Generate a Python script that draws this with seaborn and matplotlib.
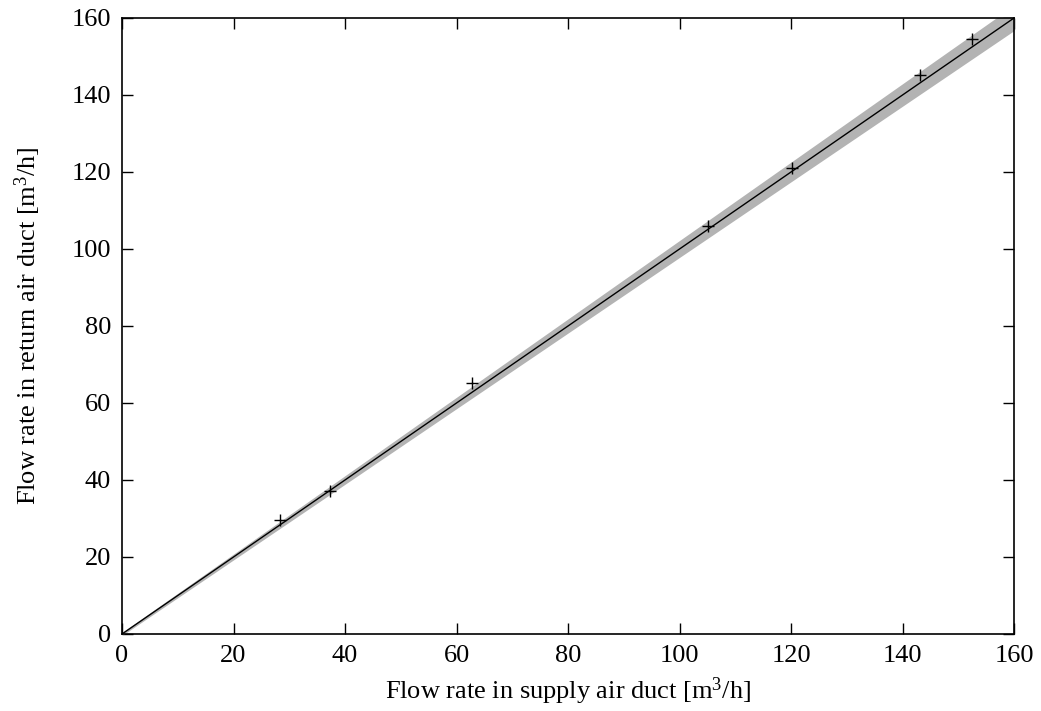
import numpy as np
import pandas as pd
import matplotlib
matplotlib.use("Agg")
import matplotlib.pyplot as plt
import seaborn as sns

supply_flow = [28.3, 37.3, 62.8, 105.1, 120.2, 143.1, 152.4]
return_flow = [29.5, 37.1, 65.2, 106.0, 121.1, 145.2, 154.6]

# Fit through origin and its uncertainty band
fit_slope = 1.0
fit_band = 0.018  # half-width of band per unit of x

x_limits = [0, 160]
y_limits = [0, 160]
tick_values = [0, 20, 40, 60, 80, 100, 120, 140, 160]

x_label = "Flow rate in supply air duct [m$^3$/h]"
y_label = "Flow rate in return air duct [m$^3$/h]"

sns.set_style("ticks")
plt.rcParams["font.family"] = ["Liberation Serif", "DejaVu Serif"]
plt.rcParams["mathtext.fontset"] = "custom"
plt.rcParams["mathtext.rm"] = "Liberation Serif"
plt.rcParams["mathtext.it"] = "Liberation Serif:italic"
plt.rcParams["text.color"] = "black"
plt.rcParams["axes.labelcolor"] = "black"

fig = plt.figure(figsize=(10.41, 7.11), dpi=100)
ax = fig.add_axes([0.1172, 0.1083, 0.9741 - 0.1172, 0.9747 - 0.1083])

xf = np.linspace(x_limits[0], x_limits[1], 200)
yf = fit_slope * xf
ax.fill_between(xf, yf - fit_band * xf - 0.4, yf + fit_band * xf + 0.4,
                color="#b3b3b3", linewidth=0, zorder=1)
fit_df = pd.DataFrame({"x": xf, "y": yf})
sns.lineplot(data=fit_df, x="x", y="y", ax=ax, color="black", linewidth=1.0, zorder=2)

df = pd.DataFrame({"supply": supply_flow, "ret": return_flow})
sns.scatterplot(data=df, x="supply", y="ret", ax=ax, marker="+", s=65,
                color="black", linewidth=1.0, zorder=3)

ax.set_xlim(x_limits)
ax.set_ylim(y_limits)
ax.set_xticks(tick_values)
ax.set_yticks(tick_values)
ax.tick_params(direction="in", length=8, width=1, top=True, right=True,
               labelsize=19, pad=8, colors="black")
for sp in ax.spines.values():
    sp.set_linewidth(1.2)
    sp.set_color("black")
    sp.set_visible(True)
ax.set_xlabel(x_label, fontsize=19, labelpad=6, color="black")
ax.set_ylabel(y_label, fontsize=19, labelpad=20, color="black")

fig.savefig("out.png", dpi=100)
